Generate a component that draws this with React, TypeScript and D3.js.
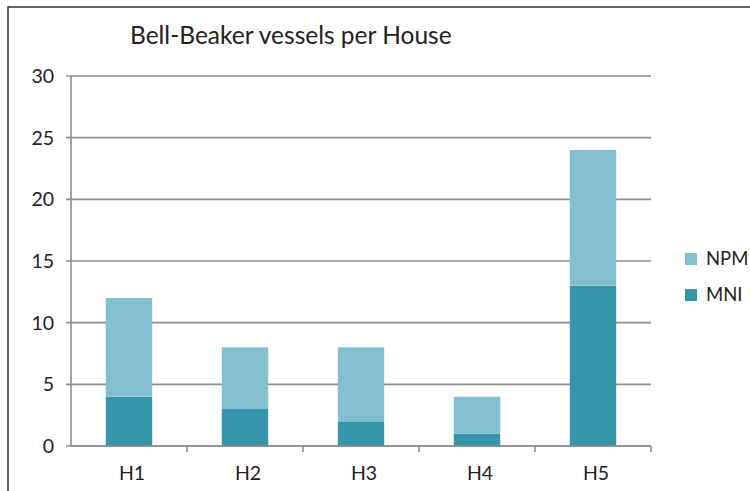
import * as d3 from "d3";

const houses = ["H1", "H2", "H3", "H4", "H5"];
const mni = [4, 3, 2, 1, 13];
const npm = [8, 5, 6, 3, 11];
const yTicks = [0, 5, 10, 15, 20, 25, 30];

const seriesNames = ["MNI", "NPM"];
const colors: Record<string, string> = { MNI: "#3795a9", NPM: "#83bfcf" };

const width = 750;
const height = 491;
const marginLeft = 71;
const plotRight = 651;
const plotTop = 76;
const plotBottom = 446;
const font = "Lato, 'Open Sans', sans-serif";

export default function App() {
  const x = d3
    .scaleBand<string>()
    .domain(houses)
    .range([marginLeft, plotRight])
    .paddingInner(0.6)
    .paddingOuter(0.3);

  const band = d3.scaleBand<string>().domain(houses).range([marginLeft, plotRight]);

  const y = d3.scaleLinear().domain([0, 30]).range([plotBottom, plotTop]);

  const rows = houses.map((h, i) => ({ house: h, MNI: mni[i], NPM: npm[i] }));
  const stacked = d3.stack<any>().keys(seriesNames)(rows);

  const gridColor = "#8d8d8d";

  return (
    <svg
      width={width}
      height={height}
      style={{ position: "absolute", left: 0, top: 0, background: "#fff" }}
    >
      {/* frame */}
      <path d={`M8,${height} V7 H${width}`} fill="none" stroke="#333" strokeWidth={1.6} />

      <text x={130} y={44} fontFamily={font} fontSize={24.5} fill="#222">
        Bell-Beaker vessels per House
      </text>

      {/* gridlines + y ticks */}
      {yTicks.map((t) => (
        <g key={t}>
          <line x1={marginLeft - 5} x2={plotRight} y1={y(t)} y2={y(t)} stroke={gridColor} strokeWidth={1.6} />
          <text
            x={54}
            y={y(t)}
            dy="0.36em"
            textAnchor="end"
            fontFamily={font}
            fontSize={19.5}
            fill="#222"
          >
            {t}
          </text>
        </g>
      ))}

      {/* y axis */}
      <line x1={marginLeft} x2={marginLeft} y1={plotTop} y2={plotBottom} stroke={gridColor} strokeWidth={1.6} />

      {/* bars */}
      {stacked.map((s) => (
        <g key={s.key} fill={colors[s.key]}>
          {s.map((d, i) => (
            <rect
              key={houses[i]}
              x={x(houses[i])}
              y={y(d[1])}
              width={x.bandwidth()}
              height={y(d[0]) - y(d[1])}
            />
          ))}
        </g>
      ))}

      {/* x axis */}
      <line x1={marginLeft} x2={plotRight} y1={plotBottom} y2={plotBottom} stroke={gridColor} strokeWidth={1.6} />
      {houses.map((h) => (
        <line
          key={"t" + h}
          x1={band(h)! + band.bandwidth()}
          x2={band(h)! + band.bandwidth()}
          y1={plotBottom}
          y2={plotBottom + 6}
          stroke={gridColor}
          strokeWidth={1.6}
        />
      ))}
      {houses.map((h) => (
        <text
          key={"l" + h}
          x={band(h)! + band.bandwidth() / 2 + 3}
          y={480}
          textAnchor="middle"
          fontFamily={font}
          fontSize={19.5}
          fill="#222"
        >
          {h}
        </text>
      ))}

      {/* legend */}
      {["NPM", "MNI"].map((k, i) => (
        <g key={k} transform={`translate(685,${253 + i * 36})`}>
          <rect width={12} height={12} fill={colors[k]} />
          <text x={21} y={12} fontFamily={font} fontSize={18.5} fill="#222">
            {k}
          </text>
        </g>
      ))}
    </svg>
  );
}
